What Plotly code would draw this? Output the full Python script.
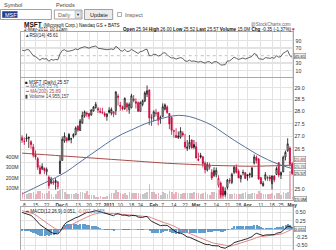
import math
import pandas as pd
import plotly.graph_objects as go

W, H = 336, 250

# ---------------- data ----------------
holidays = ["2010-11-25", "2010-12-24", "2011-01-17", "2011-02-21", "2011-04-22"]
dates = [d.strftime("%Y-%m-%d") for d in pd.bdate_range("2010-11-05", "2011-05-02")
         if d.strftime("%Y-%m-%d") not in holidays]

prev_close = 27.14

opens = [26.95,26.80,26.90,26.96,26.79,26.59,26.30,26.14,25.79,25.74,
         25.77,25.64,25.44,25.22,25.22,25.24,25.08,25.57,26.07,26.82,
         26.93,27.08,26.91,27.00,27.07,27.41,27.24,27.53,27.82,27.94,
         27.92,27.86,28.03,28.17,28.12,27.97,27.94,27.92,27.80,28.05,
         27.94,27.90,28.04,28.64,28.26,28.20,28.12,28.33,28.08,28.16,
         28.52,28.41,28.37,28.01,28.30,28.44,28.72,28.90,27.77,27.80,
         27.93,27.97,27.70,27.80,28.10,28.19,27.93,27.76,27.20,27.04,
         26.96,26.97,27.13,26.78,26.53,26.61,26.86,26.68,26.60,26.11,
         26.26,26.21,25.96,25.71,25.81,25.62,25.50,25.54,25.14,25.22,
         25.06,24.92,25.06,25.32,25.24,25.62,25.80,25.66,25.38,25.60,
         25.60,25.53,25.53,25.45,25.97,26.19,26.12,25.42,25.12,25.37,
         25.41,25.44,25.19,25.48,25.54,25.98,25.51,25.64,26.20,26.44,
         26.55,25.94]
highs = [27.05,26.96,27.11,27.00,26.85,26.71,26.45,26.20,25.89,25.96,
         25.80,25.80,25.50,25.45,25.35,25.40,25.30,26.25,27.00,27.16,
         26.98,27.14,26.95,27.13,27.40,27.45,27.70,28.00,28.05,28.00,
         27.95,28.10,28.23,28.40,28.20,28.16,28.16,28.00,27.92,28.18,
         28.17,28.01,28.85,28.74,28.40,28.25,28.59,28.39,28.38,28.74,
         28.69,28.55,28.42,28.42,28.50,28.85,29.10,28.93,27.90,28.06,
         28.11,27.98,27.84,28.34,28.34,28.26,27.94,27.81,27.27,27.33,
         27.20,27.37,27.21,27.10,26.86,27.06,26.88,26.86,26.78,26.37,
         26.36,26.23,26.03,26.00,25.98,25.74,25.81,25.80,25.51,25.28,
         25.12,25.06,25.37,25.40,25.60,25.88,25.92,25.73,25.53,25.72,
         25.63,25.53,25.61,25.82,26.30,26.26,26.16,25.45,25.29,25.63,
         25.49,25.52,25.50,25.51,25.83,26.00,25.65,26.25,26.45,26.93,
         26.61,26.00]
lows = [26.75,26.67,26.79,26.55,26.52,26.18,26.10,25.71,25.54,25.70,
        25.55,25.50,25.01,25.17,25.15,24.98,25.00,25.56,26.05,26.75,
        26.76,26.81,26.73,26.93,27.05,27.19,27.22,27.52,27.75,27.78,
        27.69,27.84,28.00,28.12,27.94,27.93,27.91,27.78,27.63,27.92,
        27.85,27.77,27.86,28.25,28.04,28.05,28.07,28.01,27.91,28.14,
        28.39,28.13,27.99,28.01,28.22,28.39,28.60,27.45,27.42,27.61,
        27.80,27.44,27.51,27.79,28.05,27.91,27.29,27.07,26.95,26.95,
        26.90,26.91,26.99,26.52,26.43,26.50,26.53,26.51,26.15,26.04,
        26.14,25.80,25.58,25.65,25.72,25.33,25.44,25.43,25.05,24.68,
        24.72,24.72,24.98,25.20,25.18,25.55,25.57,25.41,25.24,25.51,
        25.38,25.31,25.40,25.43,25.91,25.95,25.34,25.18,25.09,25.31,
        25.30,25.28,24.98,25.25,25.53,25.43,25.37,25.62,26.07,26.40,
        25.83,25.52]
closes = [26.85,26.81,26.94,26.94,26.68,26.27,26.20,25.81,25.57,25.84,
          25.69,25.73,25.12,25.37,25.25,25.31,25.26,26.04,26.89,27.02,
          26.84,26.87,26.90,27.08,27.34,27.25,27.62,27.85,27.99,27.90,
          27.81,28.07,28.19,28.30,28.07,28.01,27.97,27.85,27.91,27.98,
          28.09,28.00,28.82,28.60,28.22,28.11,28.55,28.19,28.30,28.66,
          28.47,28.35,28.02,28.38,28.45,28.78,28.87,27.75,27.73,27.99,
          27.94,27.65,27.77,28.20,28.28,27.97,27.50,27.25,27.23,26.96,
          27.02,27.21,27.06,26.59,26.59,26.77,26.55,26.58,26.16,26.08,
          26.20,25.95,25.72,25.91,25.89,25.41,25.68,25.69,25.39,24.79,
          24.78,24.80,25.33,25.30,25.54,25.81,25.62,25.41,25.49,25.61,
          25.39,25.48,25.55,25.78,26.20,26.07,25.37,25.19,25.21,25.53,
          25.42,25.37,25.48,25.34,25.76,25.52,25.61,26.19,26.38,26.71,
          25.92,25.57]
volumes_m = [65,52,51,60,55,68,52,72,75,56,
             50,54,80,52,20,52,74,88,95,70,
             45,52,50,52,55,46,66,66,60,75,
             40,41,40,20,19,30,20,20,25,52,
             54,57,87,62,58,45,58,42,62,54,
             53,55,53,47,45,60,69,140,65,62,
             45,60,40,68,54,52,80,62,48,65,
             55,48,58,58,53,59,54,65,60,55,
             51,55,63,47,40,68,64,58,83,80,
             61,86,55,43,51,61,52,43,46,58,
             64,52,46,53,61,48,72,55,51,50,
             45,49,60,40,56,57,40,70,60,64,
             270,15]
rsi = [65,63,66,66,58,50,48,42,38,43,
       41,42,35,40,38,40,39,55,64,66,
       62,62,63,65,68,66,70,72,74,72,
       70,73,74,76,70,69,68,65,66,67,
       68,66,75,71,64,62,67,61,62,67,
       63,61,56,61,62,66,67,50,50,54,
       53,49,51,57,58,53,47,44,44,41,
       42,45,43,36,35,38,35,36,34,33,
       35,32,30,34,34,29,34,34,31,25,
       25,26,36,36,41,46,43,40,42,44,
       41,43,44,48,56,53,42,40,40,45,
       44,43,45,43,50,46,48,57,60,64,
       50,45.61]
macd = [0.50,0.48,0.47,0.45,0.41,0.35,0.29,0.21,0.13,0.08,
        0.03,0.00,-0.07,-0.10,-0.13,-0.14,-0.15,-0.08,0.04,0.14,
        0.20,0.24,0.27,0.30,0.34,0.36,0.40,0.44,0.48,0.50,
        0.50,0.52,0.53,0.55,0.54,0.52,0.50,0.47,0.45,0.43,
        0.42,0.40,0.45,0.46,0.44,0.41,0.42,0.40,0.39,0.41,
        0.41,0.40,0.36,0.35,0.35,0.37,0.38,0.30,0.23,0.20,
        0.17,0.12,0.10,0.11,0.12,0.11,0.06,0.00,-0.04,-0.09,
        -0.12,-0.13,-0.15,-0.20,-0.24,-0.25,-0.28,-0.30,-0.34,-0.38,
        -0.40,-0.43,-0.46,-0.47,-0.47,-0.50,-0.50,-0.49,-0.51,-0.55,
        -0.57,-0.58,-0.54,-0.51,-0.47,-0.41,-0.38,-0.37,-0.35,-0.32,
        -0.31,-0.29,-0.27,-0.23,-0.17,-0.13,-0.15,-0.18,-0.20,-0.18,
        -0.18,-0.18,-0.17,-0.17,-0.13,-0.12,-0.10,-0.04,0.02,0.08,
        0.07,0.051]
signal = [0.550,0.536,0.523,0.508,0.488,0.461,0.427,0.384,0.333,0.282,
          0.232,0.186,0.135,0.088,0.044,0.007,-0.024,-0.035,-0.020,0.012,
          0.050,0.088,0.124,0.159,0.195,0.228,0.262,0.298,0.334,0.367,
          0.394,0.419,0.441,0.463,0.478,0.486,0.489,0.485,0.478,0.468,
          0.459,0.447,0.448,0.450,0.448,0.440,0.436,0.429,0.421,0.419,
          0.417,0.414,0.403,0.392,0.384,0.381,0.381,0.365,0.338,0.310,
          0.282,0.250,0.220,0.198,0.182,0.168,0.146,0.117,0.086,0.051,
          0.017,-0.012,-0.040,-0.072,-0.106,-0.135,-0.164,-0.191,-0.221,-0.253,
          -0.282,-0.312,-0.342,-0.368,-0.388,-0.410,-0.428,-0.440,-0.454,-0.473,
          -0.492,-0.510,-0.516,-0.515,-0.506,-0.487,-0.466,-0.447,-0.428,-0.406,
          -0.387,-0.368,-0.348,-0.324,-0.293,-0.260,-0.238,-0.226,-0.221,-0.213,
          -0.206,-0.201,-0.195,-0.190,-0.178,-0.166,-0.153,-0.130,-0.100,-0.064,
          -0.037,-0.007]

ma_dates = ["2010-11-05","2010-11-12","2010-11-19","2010-11-29","2010-12-06","2010-12-13",
            "2010-12-20","2010-12-28","2011-01-04","2011-01-11","2011-01-19","2011-01-26",
            "2011-02-02","2011-02-09","2011-02-16","2011-02-24","2011-03-03","2011-03-10",
            "2011-03-17","2011-03-24","2011-03-31","2011-04-07","2011-04-14","2011-04-21",
            "2011-05-02"]
ma50 = [24.82,25.02,25.22,25.42,25.65,25.95,26.25,26.55,26.85,27.10,27.30,27.50,
        27.65,27.78,27.85,27.80,27.65,27.45,27.15,26.85,26.58,26.32,26.10,25.92,25.76]
ma200 = [26.35,26.32,26.29,26.26,26.23,26.20,26.17,26.14,26.11,26.08,26.05,26.02,
         25.99,25.96,25.94,25.92,25.90,25.88,25.87,25.86,25.85,25.85,25.86,25.87,25.89]

tick_dates = ["2010-11-08","2010-11-15","2010-11-22","2010-12-01","2010-12-06","2010-12-13",
              "2010-12-20","2010-12-27","2011-01-03","2011-01-10","2011-01-18","2011-01-24",
              "2011-02-01","2011-02-07","2011-02-14","2011-02-22","2011-03-01","2011-03-07",
              "2011-03-14","2011-03-21","2011-03-28","2011-04-01","2011-04-11","2011-04-18",
              "2011-04-25","2011-05-02"]
tick_text = ["8","15","22","<b>Dec</b>","6","13","20","27","<b>2011</b>","10","18","24",
             "<b>Feb</b>","7","14","22","<b>Mar</b>","7","14","21","28","<b>Apr</b>","11","18",
             "25","<b>May</b>"]

price_ticks = [25.0, 25.5, 26.0, 26.5, 27.0, 27.5, 28.0, 28.5, 29.0]
price_labels = ["25.0", "", "", "26.5", "27.0", "27.5", "28.0", "28.5", "29.0"]
rsi_ticks = [10, 30, 70, 90]
macd_ticks = [-0.5, -0.25, 0.25, 0.5]
vol_ticks = [100, 200, 300, 400]

# ---------------- helpers ----------------
pos = {d: i for i, d in enumerate(dates)}
xs = list(range(len(dates)))
tickvals = [pos[d] for d in tick_dates]
ma_x = [pos[d] for d in ma_dates]

def px(x):
    return x / W

def py(y):
    return max(0.0, min(1.0, 1 - y / H))

FONT = "Liberation Sans"
GRID = "#e3e3e3"
BORDER = "#a8a8a8"
RED = "#c8083c"
X0, X1 = 21, 297
xdom = [px(X0), px(X1)]
xrange_ = [-0.6, len(dates) - 1 + 0.6]

fig = go.Figure()

# volume (base axis y2, drawn beneath price)
prevs = [prev_close] + closes[:-1]
vol_colors = ["rgba(230,150,170,0.75)" if c < p else "rgba(185,185,185,0.8)"
              for c, p in zip(closes, prevs)]
fig.add_trace(go.Bar(x=xs, y=volumes_m, marker=dict(color=vol_colors, line=dict(width=0)),
                     width=0.75, xaxis="x2", yaxis="y2", hoverinfo="skip", showlegend=False))

# MAs
fig.add_trace(go.Scatter(x=ma_x, y=ma200, mode="lines", line=dict(color="#a84a4a", width=1, shape="spline"),
                         xaxis="x2", yaxis="y4", hoverinfo="skip", showlegend=False))
fig.add_trace(go.Scatter(x=ma_x, y=ma50, mode="lines", line=dict(color="#56709e", width=1, shape="spline"),
                         xaxis="x2", yaxis="y4", hoverinfo="skip", showlegend=False))

# candles split by change vs previous close
for is_up, col in [(True, "#111111"), (False, RED)]:
    idx = [i for i in xs if (closes[i] >= prevs[i]) == is_up]
    fig.add_trace(go.Candlestick(
        x=[xs[i] for i in idx], open=[opens[i] for i in idx], high=[highs[i] for i in idx],
        low=[lows[i] for i in idx], close=[closes[i] for i in idx],
        increasing=dict(line=dict(color=col, width=0.8), fillcolor="white"),
        decreasing=dict(line=dict(color=col, width=0.8), fillcolor=col),
        whiskerwidth=0, xaxis="x2", yaxis="y4", hoverinfo="skip", showlegend=False))

# RSI
fig.add_trace(go.Scatter(x=xs, y=rsi, mode="lines", line=dict(color="#3a3a3a", width=0.8),
                         xaxis="x", yaxis="y", hoverinfo="skip", showlegend=False))

# MACD
hist = [m - s for m, s in zip(macd, signal)]
fig.add_trace(go.Bar(x=xs, y=hist, marker=dict(color="rgba(70,140,195,0.85)", line=dict(width=0)),
                     width=0.9, xaxis="x3", yaxis="y3", hoverinfo="skip", showlegend=False))
fig.add_trace(go.Scatter(x=xs, y=signal, mode="lines", line=dict(color="#e07a7a", width=0.9),
                         xaxis="x3", yaxis="y3", hoverinfo="skip", showlegend=False))
fig.add_trace(go.Scatter(x=xs, y=macd, mode="lines", line=dict(color="#111111", width=0.9),
                         xaxis="x3", yaxis="y3", hoverinfo="skip", showlegend=False))

# ---------------- axes ----------------
tickfont = dict(family=FONT, size=5.2, color="#333")
xcommon = dict(range=xrange_, domain=xdom, tickvals=tickvals, showgrid=True, gridcolor=GRID,
               gridwidth=1, zeroline=False, showline=True, mirror=True, linecolor=BORDER,
               linewidth=1, fixedrange=True)

rsi_dom = [py(77), py(32)]
price_dom = [py(200), py(78)]
macd_dom = [0.0, py(207)]

lo_p = 29 * math.exp(-(200 - 87.7) / 682.6)
hi_p = 29 * math.exp((87.7 - 78) / 682.6)

fig.update_layout(
    width=W, height=H, margin=dict(l=0, r=0, t=0, b=0),
    paper_bgcolor="white", plot_bgcolor="white", showlegend=False,
    font=dict(family=FONT, size=6, color="#222"),
    xaxis=dict(**xcommon, anchor="y", showticklabels=False, rangeslider=dict(visible=False)),
    xaxis2=dict(**xcommon, anchor="y2", showticklabels=True, ticktext=tick_text,
                tickfont=dict(family=FONT, size=4.9, color="#333"),
                ticks="", ticklen=0, tickangle=0, rangeslider=dict(visible=False), matches="x"),
    xaxis3=dict(**xcommon, anchor="y3", showticklabels=False, rangeslider=dict(visible=False), matches="x"),
    yaxis=dict(domain=rsi_dom, range=[-6.8, 113.2], side="right", tickvals=rsi_ticks,
               ticktext=[str(v) for v in rsi_ticks], tickfont=tickfont, showgrid=True,
               gridcolor=GRID, zeroline=False, showline=True, mirror=True, linecolor=BORDER,
               anchor="x", fixedrange=True),
    yaxis2=dict(domain=price_dom, range=[-9.5, 1152], side="left", tickvals=vol_ticks,
                ticktext=[f"{v}M" for v in vol_ticks], tickfont=tickfont, showgrid=False,
                zeroline=False, showline=True, mirror=True, linecolor=BORDER, anchor="x2",
                fixedrange=True),
    yaxis4=dict(type="log", range=[math.log10(lo_p), math.log10(hi_p)], side="right",
                overlaying="y2", anchor="x2", tickvals=price_ticks,
                ticktext=price_labels, tickfont=tickfont, showgrid=True,
                gridcolor=GRID, zeroline=False, showline=False, fixedrange=True),
    yaxis3=dict(domain=macd_dom, range=[-0.633, 0.663], side="right", tickvals=macd_ticks,
                ticktext=[f"{v:.2f}" for v in macd_ticks], tickfont=tickfont, showgrid=True,
                gridcolor=GRID, zeroline=True, zerolinecolor="#bbbbbb", zerolinewidth=1,
                showline=True, mirror=True, linecolor=BORDER, anchor="x3", fixedrange=True),
    bargap=0,
)

shapes = []
annos = []

# RSI 70/30 reference lines and mid dotted line
for lvl, col, dash in [(70, "#8a8a8a", "solid"), (30, "#8a8a8a", "solid"), (50, "#b0b0b0", "dot")]:
    shapes.append(dict(type="line", xref="x", yref="y", x0=xrange_[0], x1=xrange_[1], y0=lvl, y1=lvl,
                       line=dict(color=col, width=0.8, dash=dash), layer="below"))

def txt(x, y, s, size=5.5, color="#333", anchor="left", bold=False):
    annos.append(dict(xref="paper", yref="paper", x=px(x), y=py(y), text=f"<b>{s}</b>" if bold else s,
                      showarrow=False, xanchor=anchor, yanchor="middle",
                      font=dict(family=FONT, size=size, color=color)))

def rect(x0, y0, x1, y1, line="#999", fill="white", w=0.8):
    shapes.append(dict(type="rect", xref="paper", yref="paper", x0=px(x0), x1=px(x1), y0=py(y1), y1=py(y0),
                       line=dict(color=line, width=w), fillcolor=fill, layer="above"))

# ---- form controls at top ----
txt(2, 4.5, "Symbol", 5.5, "#444")
txt(55, 4.5, "Periods", 5.5, "#444")
rect(0.5, 9.5, 52, 19.5, "#8a8a8a")
rect(2.5, 11.5, 17.5, 17.5, "#1f3f8f", "#1f3f8f", 0.5)
txt(3.2, 14.6, "MSFT", 5.5, "white")
rect(55, 10, 83, 19, "#8a8a8a")
txt(57, 14.6, "Daily", 5.5, "#666")
rect(76, 11, 82, 18, "#9a9a9a", "#e8e8e8", 0.5)
annos.append(dict(xref="paper", yref="paper", x=px(79), y=py(14.6), text="▼", showarrow=False,
                  font=dict(size=4, color="#222"), xanchor="center", yanchor="middle"))
rect(85.5, 9.5, 114, 19.5, "#8a8a8a", "#ececec")
txt(99.7, 14.6, "Update", 5.5, "#222", anchor="center")
rect(119, 12.5, 123, 16.5, "#777", "white", 0.6)
txt(124.5, 14.8, "Inspect", 5.5, "#555")

# ---- title lines ----
annos.append(dict(xref="paper", yref="paper", x=px(22.5), y=py(24.5), showarrow=False,
                  xanchor="left", yanchor="middle",
                  text="<b>MSFT</b> <span style='font-size:4.6px'>(Microsoft Corp.) Nasdaq GS + BATS</span>",
                  font=dict(family=FONT, size=6.5, color="#111")))
txt(297, 24.8, "@StockCharts.com", 4.6, "#666", anchor="right")
txt(22.5, 29.6, "2-May-2011 10:12am", 4.6, "#222")
annos.append(dict(xref="paper", yref="paper", x=px(302), y=py(29.6), showarrow=False,
                  xanchor="right", yanchor="middle",
                  text="<b>Open</b> 25.94 <b>High</b> 26.00 <b>Low</b> 25.52 <b>Last</b> 25.57 "
                       "<b>Volume</b> 15.0M <b>Chg</b> -0.35 (-1.37%)<span style='color:#c8083c'>▼</span>",
                  font=dict(family=FONT, size=4.6, color="#111")))

# ---- panel legends ----
txt(23, 35, "<span style='color:#444'>▲</span>RSI(14) 45.61", 4.6, "#222")
txt(23, 82, "■ MSFT (Daily) 25.57", 4.6, "#222")
txt(23, 86.8, "━ MA(50) 25.76", 4.6, "#56709e")
txt(23, 91.4, "━ MA(200) 25.89", 4.6, "#a84a4a")
txt(23, 96, "▮ Volume 14,955,157", 4.6, "#444")
annos.append(dict(xref="paper", yref="paper", x=px(23), y=py(211.5), showarrow=False,
                  xanchor="left", yanchor="middle",
                  text="━ MACD(12,26,9) 0.051, <span style='color:#d06060'>-0.007</span>, "
                       "<span style='color:#4a8cc0'>0.058</span>",
                  font=dict(family=FONT, size=4.6, color="#222")))

# ---- right value boxes ----
def vbox(y, s, color="#222"):
    annos.append(dict(xref="paper", yref="paper", x=px(298), y=py(y), text=s, showarrow=False,
                      xanchor="left", yanchor="middle", font=dict(family=FONT, size=4.3, color=color),
                      bgcolor="#eeeeee", bordercolor="#777", borderwidth=0.5, borderpad=0))

vbox(55.7, "45.61")
vbox(159.4, "25.89", "#a84a4a")
vbox(166.4, "25.76", "#56709e")
vbox(173.4, "25.57")
vbox(199.2, "15.0M")
vbox(228.6, "0.051")

fig.update_layout(shapes=shapes, annotations=annos)
fig.write_html("out.html")
